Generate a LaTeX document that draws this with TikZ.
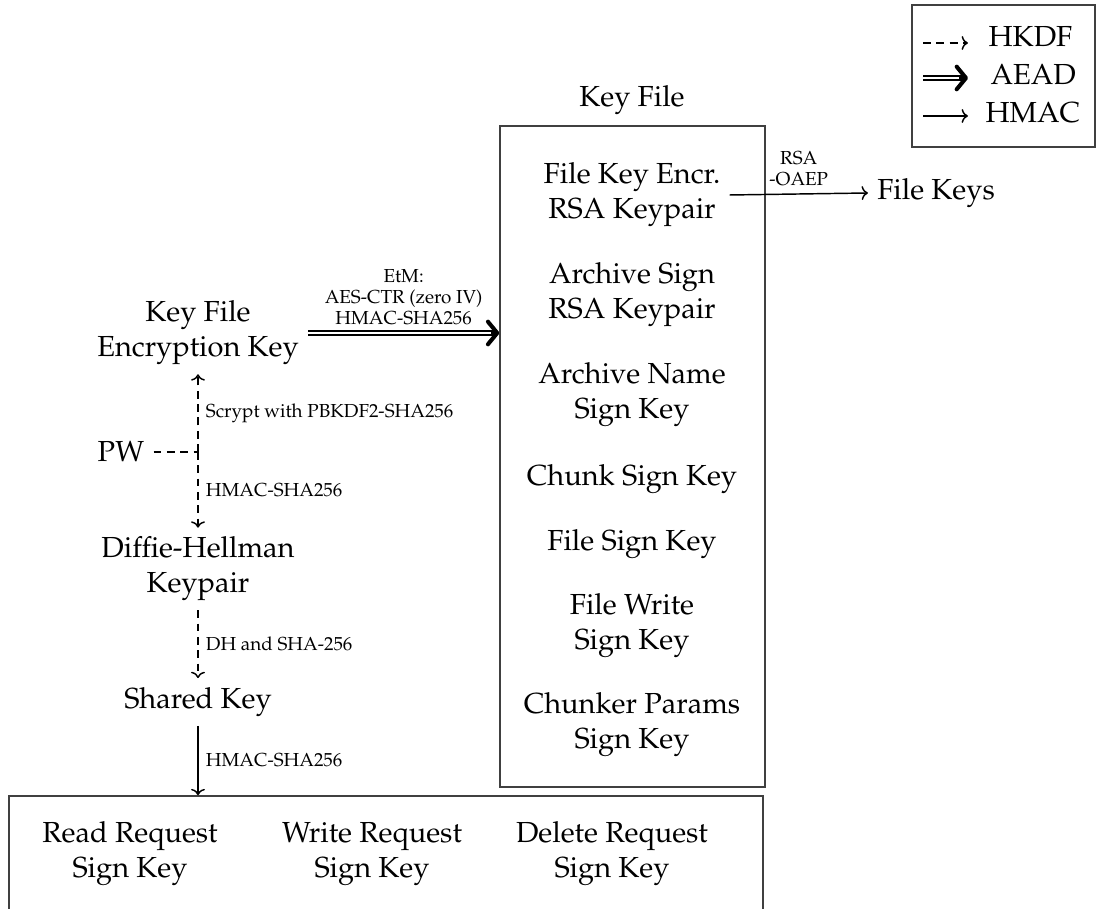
\documentclass[tikz,border=0pt]{standalone}
\usepackage[T1]{fontenc}
\usepackage{mathpazo}
\usetikzlibrary{fit,arrows.meta}
\begin{document}
\begin{tikzpicture}[x=0.3448pt,y=-0.3448pt,
  txt/.style={align=center, font=\fontsize{10}{12}\selectfont, inner sep=3pt},
  lbl/.style={align=center, font=\fontsize{6.5}{7.2}\selectfont, inner sep=2.5pt},
  boxst/.style={draw=black!75, line width=0.5pt, inner sep=0pt},
  hkdf/.style={line width=0.5pt, dash pattern=on 2.7pt off 1.9pt},
  hkdfarr/.style={hkdf, -{To[length=2.2pt, width=4.8pt]}},
  aead/.style={double, line width=0.45pt, double distance=0.9pt, shorten >=2pt},
  aeadtip/.style={line width=1.4pt, -{Straight Barb[length=3.2pt, width=7.8pt, line width=1.4pt, round]}},
  hmac/.style={line width=0.5pt, -{To[length=2.2pt, width=4.8pt]}}
]
\useasboundingbox (0,0) rectangle (1100,909);
\clip (0,0) rectangle (1100,909);

% Legend
\coordinate (lgA) at (912,5);
\coordinate (lgB) at (1095,147);
\node[boxst, fit=(lgA)(lgB)] (legend) {};
\coordinate (l1a) at (923,43); \coordinate (l1b) at (968,43);
\coordinate (l2a) at (923,78); \coordinate (l2b) at (968,78);
\coordinate (l3a) at (923,116); \coordinate (l3b) at (968,116);
\draw[hkdfarr] (l1a) -- (l1b);
\draw[aead] (l2a) -- (l2b);
\draw[aeadtip] ([xshift=-3pt]l2b) -- (l2b);
\draw[hmac] (l3a) -- (l3b);
\node[txt, anchor=base west, inner sep=0pt] (lhk) at (988,47) {HKDF};
\node[txt, anchor=base west, inner sep=0pt] (lae) at (990,85) {AEAD};
\node[txt, anchor=base west, inner sep=0pt] (lhm) at (985,123) {HMAC};

% Key File box
\node[txt] (kftitle) at (632,100.5) {Key File};
\coordinate (kfA) at (500,126);
\coordinate (kfB) at (765,787);
\node[boxst, fit=(kfA)(kfB)] (kf) {};
\node[txt] (fke) at (632,195) {File Key Encr.\\RSA Keypair};
\node[txt] (ask) at (632,295) {Archive Sign\\RSA Keypair};
\node[txt] (ank) at (632,395) {Archive Name\\Sign Key};
\node[txt] (csk) at (632,479) {Chunk Sign Key};
\node[txt] (fsk) at (632,544) {File Sign Key};
\node[txt] (fwk) at (632,626) {File Write\\Sign Key};
\node[txt] (cpk) at (632,725) {Chunker Params\\Sign Key};

\node[txt, anchor=west] (fk) at (868,193) {File Keys};
\draw[hmac] (fke.east) -- (fk.west) node[lbl, midway, above] {RSA\\-OAEP};

% Left column
\node[txt] (kfek) at (198,333) {Key File\\Encryption Key};
\node[txt] (pw) at (121,452) {PW};
\coordinate (j) at (198,452);
\node[txt] (dh) at (198,569) {Diffie-Hellman\\Keypair};
\node[txt] (sk) at (198,702) {Shared Key};

\coordinate (aeadend) at (kfek.east -| kf.west);
\draw[aead] (kfek.east) -- (aeadend)
  node[lbl, midway, above] {EtM:\\AES-CTR (zero IV)\\HMAC-SHA256};
\draw[aeadtip] ([xshift=-3pt]aeadend) -- (aeadend);
\draw[hkdf] (pw.east) -- (j);
\draw[hkdfarr] (j) -- (j |- kfek.south) node[lbl, midway, right] {Scrypt with PBKDF2-SHA256};
\draw[hkdfarr] (j) -- (j |- dh.north) node[lbl, midway, right] {HMAC-SHA256};
\draw[hkdfarr] (dh.south -| j) -- (sk.north -| j) node[lbl, midway, right] {DH and SHA-256};

% Bottom box
\coordinate (bbA) at (9,796);
\coordinate (bbB) at (763,960);
\node[boxst, fit=(bbA)(bbB)] (bb) {};
\node[txt] (rrk) at (130,854) {Read Request\\Sign Key};
\node[txt] (wrk) at (372,854) {Write Request\\Sign Key};
\node[txt] (drk) at (612,854) {Delete Request\\Sign Key};

\draw[hmac] (sk.south -| j) -- (bb.north -| j) node[lbl, midway, right] {HMAC-SHA256};
\end{tikzpicture}
\end{document}
